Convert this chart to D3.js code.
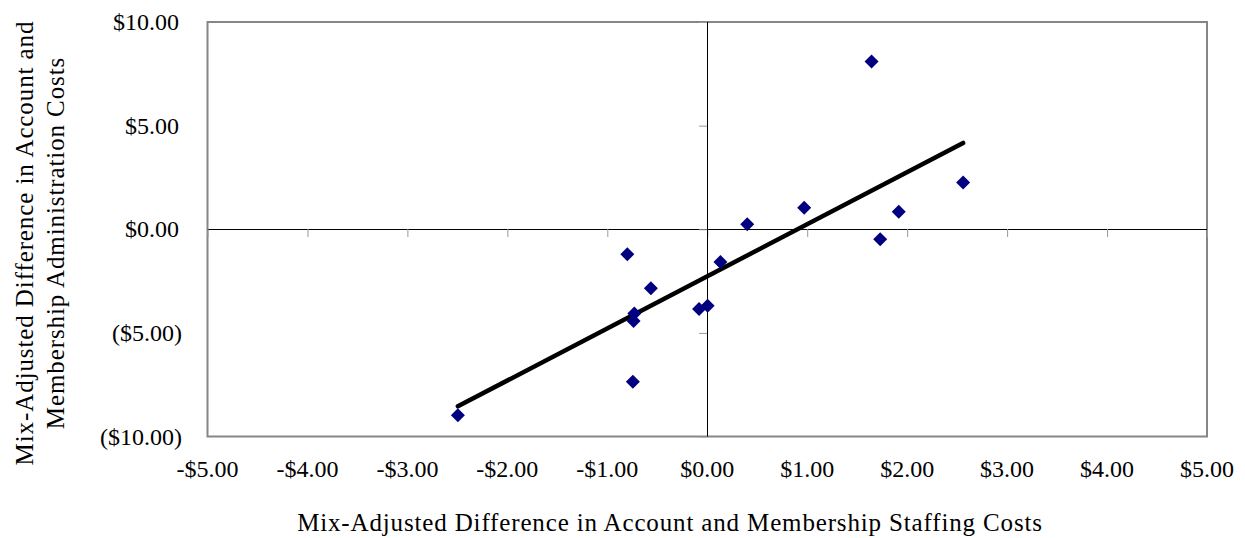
<!DOCTYPE html>
<html>
<head>
<meta charset="utf-8">
<script src="https://cdn.jsdelivr.net/npm/d3@7"></script>
<style>
  html, body { margin: 0; padding: 0; background: #fff; }
  svg { display: block; }
  text { font-family: "Liberation Serif", "DejaVu Serif", serif; fill: #000; }
</style>
</head>
<body>
<svg id="chart" width="1245" height="538"></svg>
<script>
// ---- data ----
const staffingDiff = [-2.495, -0.80, -0.564, -0.73, -0.737, -0.744, -0.082, 0.004, 0.132, 0.40, 0.97, 1.644, 1.73, 1.916, 2.56];
const adminDiff    = [-8.97, -1.21, -2.85, -4.06, -4.43, -7.36, -3.85, -3.69, -1.58, 0.24, 1.04, 8.10, -0.48, 0.85, 2.25];
const xTickValues = [-5, -4, -3, -2, -1, 0, 1, 2, 3, 4, 5];
const xTickLabels = ["-$5.00", "-$4.00", "-$3.00", "-$2.00", "-$1.00", "$0.00", "$1.00", "$2.00", "$3.00", "$4.00", "$5.00"];
const yTickValues = [10, 5, 0, -5, -10];
const yTickLabels = ["$10.00", "$5.00", "$0.00", "($5.00)", "($10.00)"];
const xTitle = "Mix-Adjusted Difference in Account and Membership Staffing Costs";
const yTitleLines = ["Mix-Adjusted Difference in Account and", "Membership Administration Costs"];

(function () {
// ---- layout ----
const pl = 207.5, pr = 1207, pt = 22, pb = 436.5;
const svg = d3.select("#chart");
const x = d3.scaleLinear().domain([-5, 5]).range([pl, pr]);
const y = d3.scaleLinear().domain([-10, 10]).range([pb, pt]);

// plot border
svg.append("rect")
  .attr("x", pl).attr("y", pt)
  .attr("width", pr - pl).attr("height", pb - pt)
  .attr("fill", "none").attr("stroke", "#868686").attr("stroke-width", 2);

// axes crossing at zero, with ticks (Excel-like)
const xAxis = d3.axisBottom(x).tickValues(xTickValues).tickSize(8).tickFormat("");
const gx = svg.append("g").attr("transform", `translate(0,${Math.round(y(0))})`).call(xAxis);
gx.select(".domain").attr("stroke", "#000").attr("stroke-width", 1).attr("d", `M${pl},0.5H${pr}`);
gx.selectAll(".tick line").attr("stroke", "#9a9a9a");

const yAxis = d3.axisLeft(y).tickValues(yTickValues).tickSize(8).tickFormat("");
const gy = svg.append("g").attr("transform", `translate(${Math.round(x(0))},0)`).call(yAxis);
gy.select(".domain").attr("stroke", "#000").attr("stroke-width", 1).attr("d", `M0.5,${pt}V${pb}`);
gy.selectAll(".tick line").attr("stroke", "#9a9a9a");

// tick labels at plot edges
svg.append("g").selectAll("text").data(xTickValues).join("text")
  .attr("x", d => x(d)).attr("y", pb + 40)
  .attr("text-anchor", "middle").attr("font-size", 24)
  .text((d, i) => xTickLabels[i]);

svg.append("g").selectAll("text").data(yTickValues).join("text")
  .attr("x", d => d >= 0 ? 179 : 182).attr("y", d => y(d) + 8)
  .attr("text-anchor", "end").attr("font-size", 24)
  .text((d, i) => yTickLabels[i]);

// axis titles
svg.append("text").attr("x", 670).attr("y", 531)
  .attr("text-anchor", "middle").attr("font-size", 25)
  .attr("letter-spacing", 0.85).text(xTitle);

const yt = svg.append("text").attr("transform", "translate(0,243) rotate(-90)")
  .attr("text-anchor", "middle").attr("font-size", 25).attr("letter-spacing", 0.9);
yt.selectAll("tspan").data(yTitleLines).join("tspan")
  .attr("x", 0).attr("y", (d, i) => i === 0 ? 33 : 64).text(d => d);

// linear trendline (least squares) over data range
const mx = d3.mean(staffingDiff), my = d3.mean(adminDiff);
let sxy = 0, sxx = 0;
staffingDiff.forEach((v, i) => { sxy += (v - mx) * (adminDiff[i] - my); sxx += (v - mx) * (v - mx); });
const slope = sxy / sxx, intercept = my - slope * mx;
const [x0, x1] = d3.extent(staffingDiff);
svg.append("line")
  .attr("x1", x(x0)).attr("y1", y(intercept + slope * x0))
  .attr("x2", x(x1)).attr("y2", y(intercept + slope * x1))
  .attr("stroke", "#000").attr("stroke-width", 4.5).attr("stroke-linecap", "round");

// markers (diamonds)
svg.append("g").selectAll("path").data(staffingDiff).join("path")
  .attr("transform", (d, i) => `translate(${x(d)},${y(adminDiff[i])}) rotate(45)`)
  .attr("d", d3.symbol().type(d3.symbolSquare).size(98))
  .attr("fill", "#000080");
})();
</script>
</body>
</html>
